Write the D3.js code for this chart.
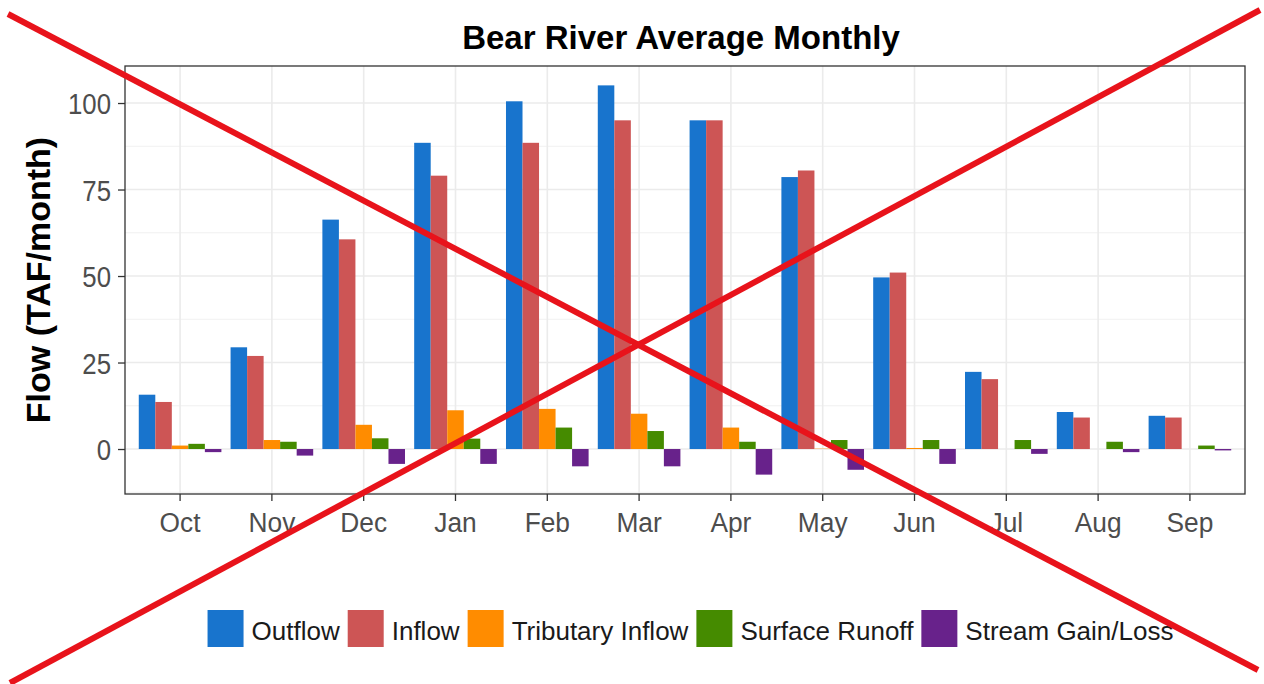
<!DOCTYPE html>
<html>
<head>
<meta charset="utf-8">
<script src="https://cdn.jsdelivr.net/npm/d3@7"></script>
<style>
  html, body { margin: 0; padding: 0; background: #fff; }
  svg { display: block; font-family: "Liberation Sans", Arial, sans-serif; }
</style>
</head>
<body>
<svg id="chart" width="1264" height="684"></svg>
<script>
// ---- data ----
const months = ["Oct","Nov","Dec","Jan","Feb","Mar","Apr","May","Jun","Jul","Aug","Sep"];
const seriesNames = ["Outflow","Inflow","Tributary Inflow","Surface Runoff","Stream Gain/Loss"];
const outflow   = [15.7, 29.4, 66.3, 88.5, 100.5, 105.1, 95.0, 78.6, 49.6, 22.3, 10.7, 9.6];
const inflow    = [13.6, 26.9, 60.6, 79.0, 88.5, 95.0, 95.0, 80.5, 51.0, 20.2, 9.1, 9.1];
const tributary = [1.0, 2.6, 7.0, 11.2, 11.6, 10.2, 6.2, 0.1, 0.3, 0, 0, 0];
const surface   = [1.5, 2.1, 3.1, 3.0, 6.2, 5.2, 2.1, 2.6, 2.6, 2.6, 2.1, 1.0];
const stream    = [-0.9, -1.9, -4.3, -4.3, -5.0, -5.0, -7.4, -6.0, -4.3, -1.4, -0.9, -0.4];
const yTicks = [0, 25, 50, 75, 100];
const colors = ["#1874CD", "#CD5555", "#FF8C00", "#458B00", "#68228B"];

const seriesValues = [outflow, inflow, tributary, surface, stream];
const rows = [];
months.forEach((m, i) => seriesNames.forEach((s, j) => rows.push({month: m, series: s, value: seriesValues[j][i]})));

// ---- layout ----
const svg = d3.select("#chart");
const panel = {left: 125, right: 1245, top: 66, bottom: 494};
const font = "'Liberation Sans', Arial, sans-serif";

const x = d3.scaleBand().domain(months).range([panel.left, panel.right]).paddingInner(0.1).paddingOuter(0.15);
const xs = d3.scaleBand().domain(seriesNames).range([0, x.bandwidth()]).padding(0);
const y = d3.scaleLinear().domain([-13.0, 110.7]).range([panel.bottom, panel.top]);
const color = d3.scaleOrdinal().domain(seriesNames).range(colors);

// panel background
svg.append("rect").attr("x", panel.left).attr("y", panel.top)
  .attr("width", panel.right - panel.left).attr("height", panel.bottom - panel.top).attr("fill", "#fff");

// minor grid
const minor = [-12.5, 12.5, 37.5, 62.5, 87.5].filter(v => v >= y.domain()[0] && v <= y.domain()[1]);
svg.append("g").selectAll("line").data(minor).join("line")
  .attr("x1", panel.left).attr("x2", panel.right)
  .attr("y1", d => y(d)).attr("y2", d => y(d))
  .attr("stroke", "#ededed").attr("stroke-width", 0.8);
// major grid
svg.append("g").selectAll("line").data(yTicks).join("line")
  .attr("x1", panel.left).attr("x2", panel.right)
  .attr("y1", d => y(d)).attr("y2", d => y(d))
  .attr("stroke", "#ebebeb").attr("stroke-width", 1.6);
svg.append("g").selectAll("line").data(months).join("line")
  .attr("x1", d => x(d) + x.bandwidth() / 2).attr("x2", d => x(d) + x.bandwidth() / 2)
  .attr("y1", panel.top).attr("y2", panel.bottom)
  .attr("stroke", "#ebebeb").attr("stroke-width", 1.6);

// bars
svg.append("g").selectAll("rect").data(rows).join("rect")
  .attr("x", d => x(d.month) + xs(d.series))
  .attr("width", xs.bandwidth())
  .attr("y", d => y(Math.max(0, d.value)))
  .attr("height", d => Math.abs(y(d.value) - y(0)))
  .attr("fill", d => color(d.series));

// panel border
svg.append("rect").attr("x", panel.left).attr("y", panel.top)
  .attr("width", panel.right - panel.left).attr("height", panel.bottom - panel.top)
  .attr("fill", "none").attr("stroke", "#333").attr("stroke-width", 1.3);

// axes
const yAxis = d3.axisLeft(y).tickValues(yTicks).tickSize(7).tickPadding(5);
const gy = svg.append("g").attr("transform", `translate(${panel.left},0)`).call(yAxis);
gy.select(".domain").remove();
gy.selectAll(".tick line").attr("stroke", "#333").attr("stroke-width", 1.3);
gy.selectAll(".tick text").attr("x", 0).attr("dy", "0.36em")
  .attr("transform", "translate(-14,0) scale(0.86,1)")
  .attr("font-size", 30).attr("font-family", font).attr("fill", "#4d4d4d");

const xAxis = d3.axisBottom(x).tickSize(7).tickPadding(11);
const gx = svg.append("g").attr("transform", `translate(0,${panel.bottom})`).call(xAxis);
gx.select(".domain").remove();
gx.selectAll(".tick line").attr("stroke", "#333").attr("stroke-width", 1.3);
gx.selectAll(".tick text").attr("transform", "scale(0.94,1)")
  .attr("font-size", 28).attr("font-family", font).attr("fill", "#4d4d4d");

// title
svg.append("text").attr("x", 681).attr("y", 49).attr("text-anchor", "middle")
  .attr("font-size", 33).attr("font-weight", "bold").attr("font-family", font).attr("fill", "#000")
  .text("Bear River Average Monthly");

// y axis title
svg.append("text").attr("transform", `translate(50,${(panel.top + panel.bottom) / 2}) rotate(-90)`)
  .attr("text-anchor", "middle").attr("font-size", 34).attr("font-weight", "bold")
  .attr("font-family", font).attr("fill", "#000").text("Flow (TAF/month)");

// legend
const lg = svg.append("g");
let cx = 0;
seriesNames.forEach(s => {
  const g = lg.append("g");
  g.append("rect").attr("x", cx).attr("y", 610).attr("width", 36).attr("height", 37).attr("fill", color(s));
  const t = g.append("text").attr("x", cx + 44).attr("y", 640).attr("font-size", 26)
    .attr("font-family", font).attr("fill", "#1a1a1a").text(s);
  const w = t.node().getComputedTextLength();
  cx += 44 + w + 8;
});
const totalW = cx - 8;
lg.attr("transform", `translate(${690.5 - totalW / 2},0)`);

// red X overlay
const xLines = [[8, 14, 1258, 670], [10, 683, 1260, 10]];
svg.append("g").selectAll("line").data(xLines).join("line")
  .attr("x1", d => d[0]).attr("y1", d => d[1]).attr("x2", d => d[2]).attr("y2", d => d[3])
  .attr("stroke", "#e8131b").attr("stroke-width", 6).attr("stroke-linecap", "butt");
</script>
</body>
</html>
